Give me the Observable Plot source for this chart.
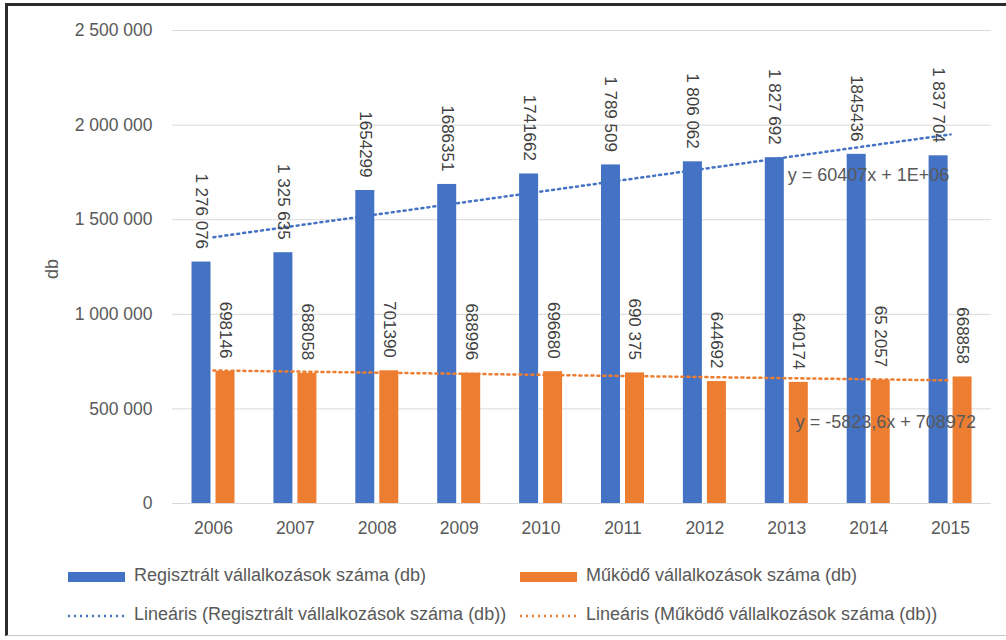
<!DOCTYPE html>
<html>
<head>
<meta charset="utf-8">
<script src="https://cdn.jsdelivr.net/npm/d3@7"></script>
<script src="https://cdn.jsdelivr.net/npm/@observablehq/plot@0.6"></script>
<style>
  html, body { margin: 0; padding: 0; background: #fff; }
  #wrap { position: relative; width: 1006px; height: 640px; overflow: hidden; background: #fff;
          font-family: "Liberation Sans", Arial, sans-serif; }
  #frame { position: absolute; left: 5px; top: 3px; width: 1010px; height: 633px;
           border-top: 3px solid #2b2b2b; border-left: 3px solid #2b2b2b; border-bottom: 1px solid #c8c8c8; box-sizing: border-box; }
  #chart { position: absolute; left: 0; top: 0; }
  .lg { position: absolute; font-size: 18px; line-height: 18px; color: #595959; white-space: nowrap; }
  .sw { position: absolute; height: 10px; width: 57px; }
  .ln { position: absolute; width: 60px; height: 6px; }
</style>
</head>
<body>
<div id="wrap">
  <div id="frame"></div>
  <div id="chart"></div>
  <div id="legend"></div>
</div>
<script>
// ---- data ----
const years = ["2006","2007","2008","2009","2010","2011","2012","2013","2014","2015"];
const registered = [1276076, 1325635, 1654299, 1686351, 1741662, 1789509, 1806062, 1827692, 1845436, 1837704];
const operating  = [698146, 688058, 701390, 688996, 696680, 690375, 644692, 640174, 652057, 668858];
const registeredLabels = ["1 276 076","1 325 635","1654299","1686351","1741662","1 789 509","1 806 062","1 827 692","1845436","1 837 704"];
const operatingLabels  = ["698146","688058","701390","688996","696680","690 375","644692","640174","65 2057","668858"];
const yTicks = [0, 500000, 1000000, 1500000, 2000000, 2500000];
const yTickLabels = ["0","500 000","1 000 000","1 500 000","2 000 000","2 500 000"];
const seriesNames = ["Regisztrált vállalkozások száma (db)", "Működő vállalkozások száma (db)"];
const trendNames = ["Lineáris (Regisztrált vállalkozások száma (db))", "Lineáris (Működő vállalkozások száma (db))"];
const equations = ["y = 60407x + 1E+06", "y = -5823,6x + 708972"];
const yLabel = "db";
const eqYear = "2013";

const BLUE = "#4472C4", ORANGE = "#ED7D31";

// least-squares linear trend (x = 1..n), as Excel does
function trend(vals) {
  const xs = vals.map((_, i) => i + 1);
  const mx = d3.mean(xs), my = d3.mean(vals);
  const slope = d3.sum(xs, (x, i) => (x - mx) * (vals[i] - my)) / d3.sum(xs, x => (x - mx) ** 2);
  const icpt = my - slope * mx;
  return xs.map(x => icpt + slope * x);
}
const fitB = trend(registered);
const fitO = trend(operating);
const idx = d3.range(years.length);
const eqI = years.indexOf(eqYear);

const chart = Plot.plot({
  width: 1006,
  height: 545,
  marginLeft: 172,
  marginRight: 15,
  marginTop: 30,
  marginBottom: 42,
  style: { fontFamily: "'Liberation Sans', Arial, sans-serif", fontSize: "17.5px", color: "#595959", background: "transparent" },
  x: { type: "band", domain: years, padding: 0, round: false, label: null },
  y: { domain: [0, 2500000], label: null },
  marks: [
    Plot.gridY(yTicks, { stroke: "#d9d9d9", strokeOpacity: 1, strokeWidth: 1 }),
    Plot.axisY({ ticks: yTicks, tickFormat: d => yTickLabels[yTicks.indexOf(d)], tickSize: 0, tickPadding: 20, label: null, fill: "#595959" }),
    Plot.axisX({ tickSize: 0, tickPadding: 18, label: null, fill: "#595959" }),
    Plot.text([yLabel], { frameAnchor: "left", text: d => d, rotate: -90, dx: -120, dy: 2, textAnchor: "middle", fill: "#595959", fontSize: 18 }),
    Plot.barY(idx, { x: i => years[i], y: i => registered[i], fill: BLUE, insetLeft: 19.5, insetRight: 43.4 }),
    Plot.barY(idx, { x: i => years[i], y: i => operating[i], fill: ORANGE, insetLeft: 43.5, insetRight: 19.4 }),
    Plot.line(idx, { x: i => years[i], y: i => fitB[i], stroke: BLUE, strokeWidth: 2.5, strokeDasharray: "2 4" }),
    Plot.line(idx, { x: i => years[i], y: i => fitO[i], stroke: ORANGE, strokeWidth: 2.5, strokeDasharray: "2 4" }),
    Plot.text(idx, { x: i => years[i], y: i => registered[i], text: i => registeredLabels[i], rotate: 90, textAnchor: "end", dx: -12, dy: -13, fill: "#404040", fontSize: 17 }),
    Plot.text(idx, { x: i => years[i], y: i => operating[i], text: i => operatingLabels[i], rotate: 90, textAnchor: "end", dx: 12, dy: -13, fill: "#404040", fontSize: 17 }),
    Plot.text([0], { x: () => eqYear, y: () => fitB[eqI], text: () => equations[0], textAnchor: "start", dx: 1, dy: 18, fill: "#595959", fontSize: 18 }),
    Plot.text([0], { x: () => eqYear, y: () => fitO[eqI], text: () => equations[1], textAnchor: "start", dx: 9, dy: 44, fill: "#595959", fontSize: 18 })
  ]
});
document.getElementById("chart").appendChild(chart);

// ---- legend ----
const lg = document.getElementById("legend");
const cols = [68, 520];
const colors = [BLUE, ORANGE];
cols.forEach((x, k) => {
  const sw = document.createElement("div");
  sw.className = "sw"; sw.style.left = x + "px"; sw.style.top = "572px"; sw.style.background = colors[k];
  lg.appendChild(sw);
  const t1 = document.createElement("div");
  t1.className = "lg"; t1.style.left = (x + 66) + "px"; t1.style.top = "566px"; t1.textContent = seriesNames[k];
  lg.appendChild(t1);
  const svgNS = "http://www.w3.org/2000/svg";
  const s = document.createElementNS(svgNS, "svg");
  s.setAttribute("class", "ln"); s.setAttribute("width", 60); s.setAttribute("height", 6);
  s.style.left = x + "px"; s.style.top = "613px";
  const l = document.createElementNS(svgNS, "line");
  l.setAttribute("x1", 0); l.setAttribute("x2", 58); l.setAttribute("y1", 3); l.setAttribute("y2", 3);
  l.setAttribute("stroke", colors[k]); l.setAttribute("stroke-width", 2.5); l.setAttribute("stroke-dasharray", "2 4");
  s.appendChild(l); lg.appendChild(s);
  const t2 = document.createElement("div");
  t2.className = "lg"; t2.style.left = (x + 66) + "px"; t2.style.top = "605px"; t2.textContent = trendNames[k];
  lg.appendChild(t2);
});
</script>
</body>
</html>
